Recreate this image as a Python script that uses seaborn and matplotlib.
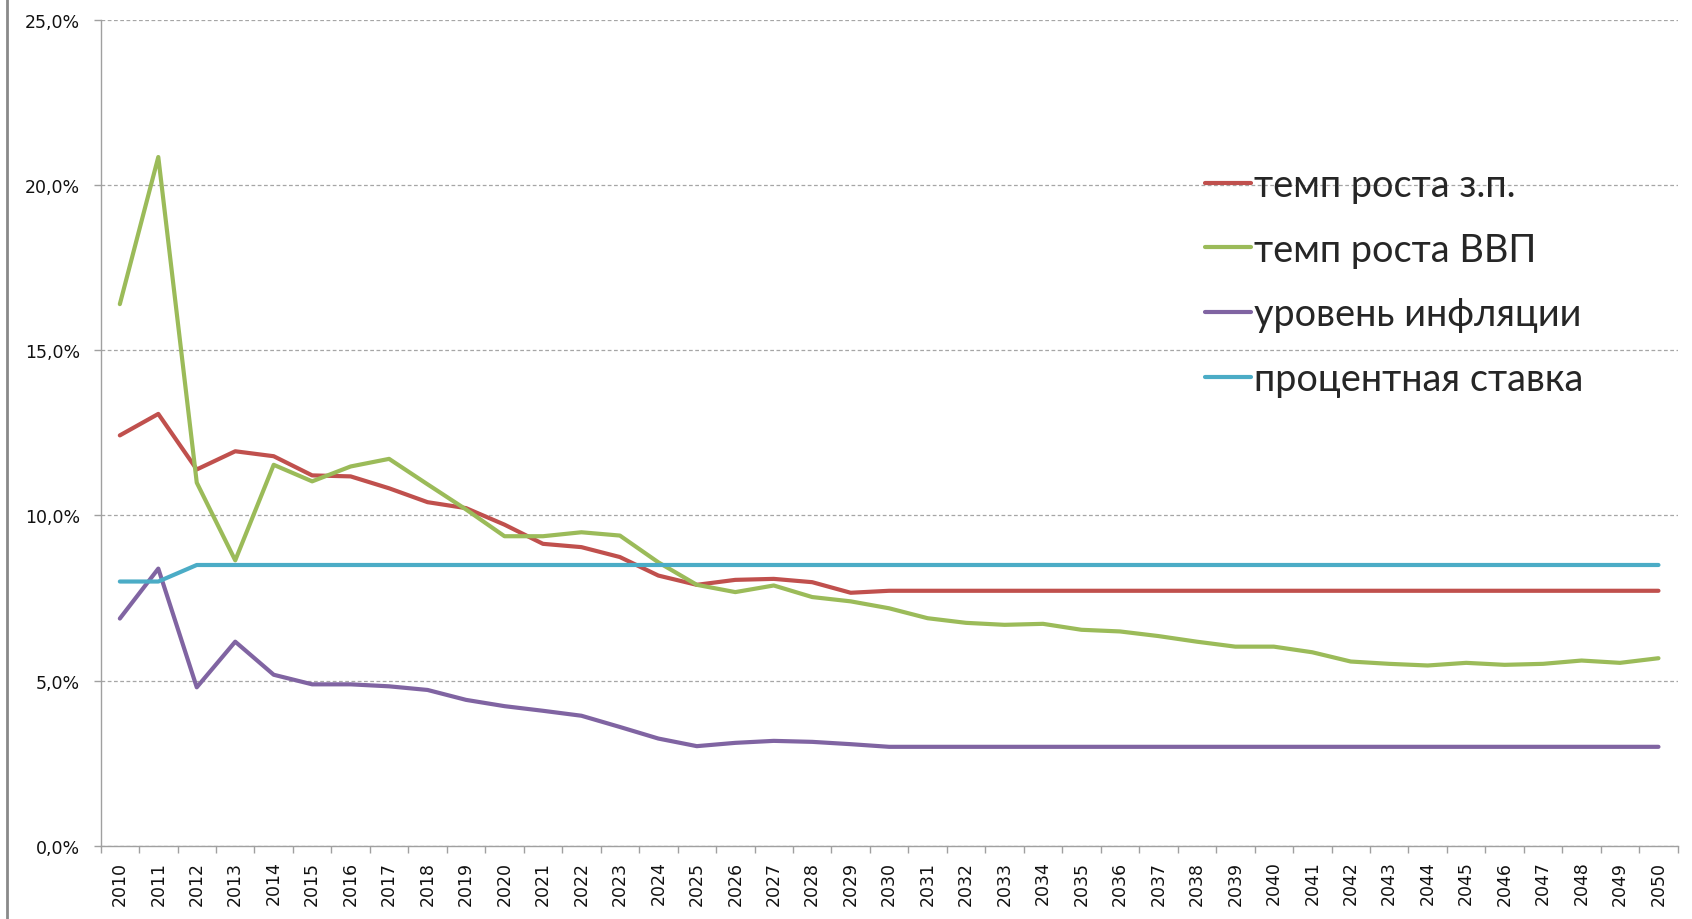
import matplotlib
matplotlib.use("Agg")
import matplotlib.pyplot as plt
from matplotlib.lines import Line2D
from matplotlib.ticker import FixedLocator, FuncFormatter
import numpy as np
import pandas as pd
import seaborn as sns

# Years of the forecast horizon
years = list(range(2010, 2051))

# Wage growth rate, %
wage_growth = [12.42, 13.07, 11.39, 11.94, 11.79, 11.21, 11.18, 10.82, 10.40, 10.22,
               9.72, 9.14, 9.04, 8.74, 8.18, 7.90, 8.05, 8.08, 7.98, 7.66,
               7.72] + [7.72] * 20

# GDP growth rate, %
gdp_growth = [16.39, 20.84, 10.99, 8.64, 11.53, 11.03, 11.48, 11.71, 10.94, 10.18,
              9.37, 9.37, 9.49, 9.39, 8.58, 7.90, 7.68, 7.88, 7.53, 7.40,
              7.19, 6.89, 6.75, 6.69, 6.72, 6.54, 6.49, 6.35, 6.18, 6.03,
              6.03, 5.86, 5.58, 5.51, 5.46, 5.54, 5.48, 5.51, 5.61, 5.54,
              5.68]

# Inflation, %
inflation = [6.88, 8.39, 4.80, 6.18, 5.18, 4.89, 4.89, 4.83, 4.72, 4.42,
             4.23, 4.09, 3.94, 3.60, 3.25, 3.02, 3.12, 3.18, 3.15, 3.08,
             3.0] + [3.0] * 20

# Interest rate, %
interest_rate = [8.0, 8.0] + [8.5] * 39

series_names = ["темп роста з.п.", "темп роста ВВП", "уровень инфляции", "процентная ставка"]
series_values = [wage_growth, gdp_growth, inflation, interest_rate]
series_colors = ["#C0504D", "#9BBB59", "#8064A2", "#4BACC6"]

y_ticks = [0, 5, 10, 15, 20, 25]

frames = []
for name, vals in zip(series_names, series_values):
    frames.append(pd.DataFrame({"year": years, "value": vals, "series": name}))
df = pd.concat(frames, ignore_index=True)

sns.set_theme(style="white")
plt.rcParams["font.family"] = ["DejaVu Sans"]

W, H = 1692, 920
fig = plt.figure(figsize=(W / 100, H / 100), dpi=100)
ax = fig.add_axes([100.6 / W, 73 / H, (1677.7 - 100.6) / W, (847 - 20.5) / H])

sns.lineplot(data=df, x="year", y="value", hue="series", hue_order=series_names,
             palette=dict(zip(series_names, series_colors)), linewidth=3.0,
             ax=ax, legend=True, sort=False)

ax.set_xlim(years[0] - 0.5, years[-1] + 0.5)
ax.set_ylim(0, 25)
ax.set_xlabel("")
ax.set_ylabel("")

# Category labels at centres, tick marks between categories
ax.xaxis.set_major_locator(FixedLocator(years))
ax.set_xticklabels([str(y) for y in years], rotation=90, fontsize=12.5, color="#111111")
ax.xaxis.set_minor_locator(FixedLocator(np.arange(years[0] - 0.5, years[-1] + 1.0, 1.0)))
ax.tick_params(axis="x", which="major", length=0, pad=10.5)
ax.tick_params(axis="x", which="minor", length=5, width=1, color="#a0a0a0", bottom=True)

ax.yaxis.set_major_locator(FixedLocator(y_ticks))
ax.yaxis.set_major_formatter(FuncFormatter(lambda v, p: f"{v:.1f}%".replace(".", ",")))
ax.tick_params(axis="y", which="major", length=5, width=1, color="#a0a0a0",
               labelsize=12.5, labelcolor="#111111", pad=10, left=True)

ax.grid(False)
ax.yaxis.grid(True, linestyle=(0, (3, 2)), color="#a6a6a6", linewidth=0.9)
ax.set_axisbelow(True)

for side in ["top", "right"]:
    ax.spines[side].set_visible(False)
for side in ["left", "bottom"]:
    ax.spines[side].set_color("#a0a0a0")
    ax.spines[side].set_linewidth(1.0)

handles, labels = ax.get_legend_handles_labels()
leg = ax.legend(handles, labels, loc="center left",
                bbox_to_anchor=(1205 / W, 1 - 283 / H), bbox_transform=fig.transFigure,
                frameon=False, handlelength=1.22, handletextpad=0.085,
                labelspacing=0.76, borderpad=0, borderaxespad=0,
                prop={"family": ["Lato", "Open Sans", "DejaVu Sans"], "size": 27.3})
for line in leg.get_lines():
    line.set_linewidth(3)

# Left border of the chart area
fig.add_artist(Line2D([7 / W, 7 / W], [0, 1], transform=fig.transFigure,
                      color="#8a8a8a", linewidth=2))

fig.savefig("out.png", dpi=100, facecolor="white")
